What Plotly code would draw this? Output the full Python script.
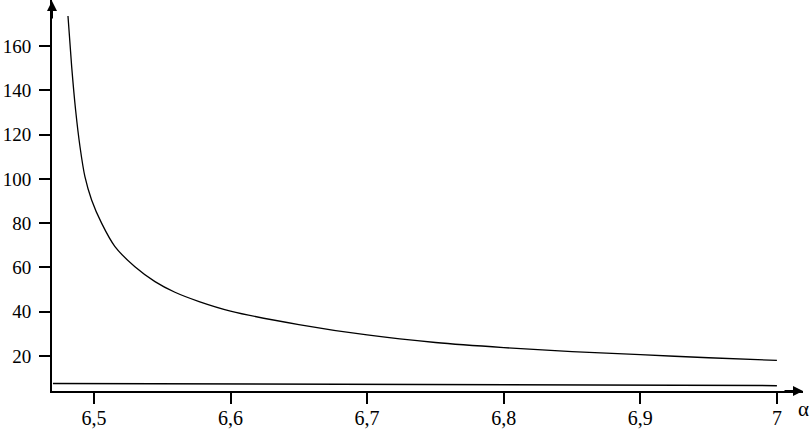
import plotly.graph_objects as go

# values
alpha_upper = [6.481, 6.4837, 6.4866, 6.4898, 6.4934, 6.4983, 6.5056, 6.5154,
               6.530, 6.5447, 6.5593, 6.577, 6.6, 6.65, 6.7, 6.75, 6.8, 6.85,
               6.9, 6.95, 7.0]
upper = [173.6, 150.7, 131.0, 114.5, 101.0, 90.5, 80.0, 69.4, 60.3, 53.6,
         48.8, 44.6, 40.3, 34.2, 29.5, 26.1, 23.8, 22.0, 20.6, 19.2, 18.0]

alpha_lower = [6.47, 6.6, 6.7, 6.8, 6.9, 7.0]
lower = [7.6, 7.4, 7.2, 7.0, 6.8, 6.6]

x_ticks = [6.5, 6.6, 6.7, 6.8, 6.9, 7.0]
x_ticktext = ["6,5", "6,6", "6,7", "6,8", "6,9", "7"]
y_ticks = [20, 40, 60, 80, 100, 120, 140, 160]

font_family = "Liberation Serif"

fig = go.Figure()

fig.add_trace(go.Scatter(
    x=alpha_upper, y=upper, mode="lines",
    line=dict(color="black", width=1.3, shape="spline", smoothing=0.8),
    hoverinfo="none",
))
fig.add_trace(go.Scatter(
    x=alpha_lower, y=lower, mode="lines",
    line=dict(color="black", width=1.5),
    hoverinfo="none",
))

# arrow heads on the axes
fig.add_annotation(xref="paper", yref="paper", x=1, y=0, ax=-20, ay=0,
                   showarrow=True, arrowhead=2, arrowsize=1, arrowwidth=2,
                   arrowcolor="black", text="")
fig.add_annotation(xref="paper", yref="paper", x=0, y=1, ax=0, ay=20,
                   showarrow=True, arrowhead=2, arrowsize=1, arrowwidth=2,
                   arrowcolor="black", text="")
# axis name
fig.add_annotation(xref="paper", yref="paper", x=0.991, y=-0.045,
                   xanchor="left", yanchor="middle", showarrow=False,
                   text="α", font=dict(family=font_family, size=21, color="black"))

fig.update_layout(
    width=811, height=431,
    margin=dict(l=52, r=8, t=0, b=40),
    plot_bgcolor="white", paper_bgcolor="white",
    showlegend=False,
    font=dict(family=font_family, size=20, color="black"),
    xaxis=dict(
        range=[6.4693, 7.0191], showgrid=False, zeroline=False,
        showline=True, linewidth=2, linecolor="black", automargin=False,
        ticks="outside", ticklen=11, tickwidth=2, tickcolor="black",
        tickvals=x_ticks, ticktext=x_ticktext, ticklabelstandoff=-3,
    ),
    yaxis=dict(
        range=[4.19, 180.8], showgrid=False, zeroline=False,
        showline=True, linewidth=2, linecolor="black", automargin=False,
        ticks="outside", ticklen=11, tickwidth=2, tickcolor="black",
        tickvals=y_ticks, ticklabelstandoff=4,
        tickfont=dict(family=font_family, size=19, color="black"),
    ),
)

fig.write_html("out.html", config={"displayModeBar": False},
               post_script="document.body.style.margin='0px';")
